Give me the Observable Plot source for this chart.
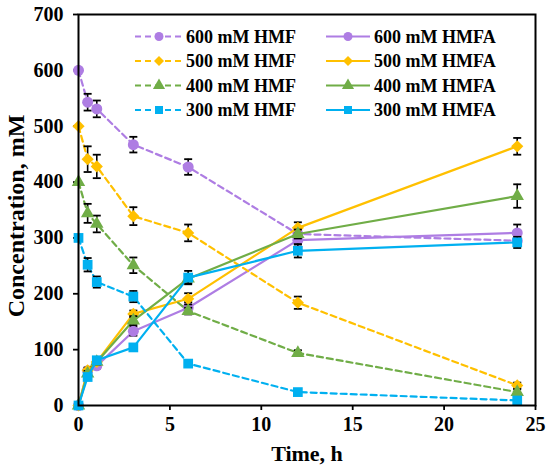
<!DOCTYPE html>
<html>
<head>
<meta charset="utf-8">
<script src="https://cdn.jsdelivr.net/npm/d3@7"></script>
<script src="https://cdn.jsdelivr.net/npm/@observablehq/plot@0.6"></script>
<style>
  html, body { margin: 0; padding: 0; background: #fff; }
  #chart { width: 550px; height: 469px; }
</style>
</head>
<body>
<div id="chart"></div>
<script>
// ---- data ----
const times = [0, 0.5, 1, 3, 6, 12, 24];

const hmf600  = [600, 543, 531, 467, 427, 307, 295];
const hmfa600 = [0, 62, 71, 133, 175, 296, 309];
const hmf500  = [500, 441, 428, 339, 309, 184, 36];
const hmfa500 = [0, 63, 78, 164, 191, 318, 464];
const hmf400  = [400, 344, 325, 251, 169, 94, 24];
const hmfa400 = [0, 57, 78, 152, 227, 307, 375];
const hmf300  = [300, 252, 221, 195, 75, 24, 9];
const hmfa300 = [0, 51, 81, 104, 229, 277, 292];

const err600hmf  = [0, 15, 15, 14, 14, 10, 8];
const err600hmfa = [0, 5, 5, 8, 10, 8, 15];
const err500hmf  = [0, 23, 21, 16, 15, 11, 5];
const err500hmfa = [0, 5, 5, 6, 10, 10, 15];
const err400hmf  = [0, 17, 15, 14, 6, 5, 5];
const err400hmfa = [0, 5, 5, 8, 8, 8, 21];
const err300hmf  = [0, 12, 10, 10, 5, 4, 3];
const err300hmfa = [0, 5, 5, 5, 12, 12, 10];

const seriesNames = ["600 mM HMF", "600 mM HMFA", "500 mM HMF", "500 mM HMFA",
                     "400 mM HMF", "400 mM HMFA", "300 mM HMF", "300 mM HMFA"];
const xTicks = [0, 5, 10, 15, 20, 25];
const yTicks = [0, 100, 200, 300, 400, 500, 600, 700];

// ---- styles ----
const purple = "#ae7de3", gold = "#ffc000", green = "#70ad47", blue = "#00b0f0";
const series = [
  {name: seriesNames[0], values: hmf600,  errors: err600hmf,  color: purple, symbol: "circle",   dashed: true},
  {name: seriesNames[1], values: hmfa600, errors: err600hmfa, color: purple, symbol: "circle",   dashed: false},
  {name: seriesNames[2], values: hmf500,  errors: err500hmf,  color: gold,   symbol: "diamond2", dashed: true},
  {name: seriesNames[3], values: hmfa500, errors: err500hmfa, color: gold,   symbol: "diamond2", dashed: false},
  {name: seriesNames[4], values: hmf400,  errors: err400hmf,  color: green,  symbol: "triangle", dashed: true},
  {name: seriesNames[5], values: hmfa400, errors: err400hmfa, color: green,  symbol: "triangle", dashed: false},
  {name: seriesNames[6], values: hmf300,  errors: err300hmf,  color: blue,   symbol: "square",   dashed: true},
  {name: seriesNames[7], values: hmfa300, errors: err300hmfa, color: blue,   symbol: "square",   dashed: false}
];

const capSymbol = {
  draw(ctx, size) {
    const w = Math.sqrt(size / Math.PI);
    ctx.moveTo(-w, 0);
    ctx.lineTo(w, 0);
  }
};

const marks = [];
for (const s of series) {
  const rows = times.map((t, i) => ({t, v: s.values[i], e: s.errors[i]}));
  const errRows = rows.filter(d => d.e > 0);
  marks.push(Plot.line(rows, {x: "t", y: "v", stroke: s.color, strokeWidth: 2.2,
    strokeDasharray: s.dashed ? "6,4" : null}));
  marks.push(Plot.ruleX(errRows, {x: "t", y1: d => d.v - d.e, y2: d => d.v + d.e, stroke: "black", strokeWidth: 1.6}));
  marks.push(Plot.dot(errRows, {x: "t", y: d => d.v + d.e, symbol: capSymbol, r: 4, stroke: "black", strokeWidth: 1.8}));
  marks.push(Plot.dot(errRows, {x: "t", y: d => d.v - d.e, symbol: capSymbol, r: 4, stroke: "black", strokeWidth: 1.8}));
  marks.push(Plot.dot(rows, {x: "t", y: "v", symbol: s.symbol, r: s.symbol === "triangle" ? 5 : 5.5, fill: s.color, stroke: "none"}));
}

const chart = Plot.plot({
  width: 550,
  height: 469,
  marginLeft: 78,
  marginRight: 15,
  marginTop: 14,
  marginBottom: 64,
  style: {fontFamily: "'Liberation Serif', 'Times New Roman', serif", fontWeight: "bold", fontSize: "20px", color: "black", background: "white"},
  x: {domain: [0, 25], ticks: xTicks, label: null},
  y: {domain: [0, 700], ticks: yTicks, label: null},
  marks: [
    Plot.axisX({ticks: xTicks, tickSize: 5, tickPadding: 6, strokeWidth: 1.8, label: null}),
    Plot.axisY({ticks: yTicks, tickSize: 5, tickPadding: 10, strokeWidth: 1.8, label: null}),
    ...marks,
    Plot.frame({stroke: "black", strokeWidth: 2}),
    Plot.text(["Time, h"], {frameAnchor: "bottom", text: d => d, dy: 55, fontSize: 22, fontWeight: "bold"}),
    Plot.text(["Concentration, mM"], {frameAnchor: "left", textAnchor: "middle", text: d => d, rotate: -90, dx: -62, dy: 6, fontSize: 24, fontWeight: "bold"})
  ]
});

document.getElementById("chart").appendChild(chart);

// ---- legend ----
const svg = d3.select(chart);
const symMap = {circle: d3.symbolCircle, diamond2: d3.symbolDiamond2, triangle: d3.symbolTriangle, square: d3.symbolSquare};
const legend = svg.append("g").attr("font-size", 18).attr("font-weight", "bold").attr("text-anchor", "start");
const cols = [{x0: 135, x1: 183, tx: 186}, {x0: 326, x1: 370, tx: 374}];
const rowY = [36.5, 61, 85.5, 110];
series.forEach((s, i) => {
  const c = cols[i % 2], y = rowY[Math.floor(i / 2)];
  const g = legend.append("g");
  g.append("line").attr("x1", c.x0).attr("x2", c.x1).attr("y1", y).attr("y2", y)
    .attr("stroke", s.color).attr("stroke-width", 2.2)
    .attr("stroke-dasharray", s.dashed ? "6,4" : null);
  g.append("path").attr("transform", `translate(${(c.x0 + c.x1) / 2},${y})`)
    .attr("d", d3.symbol(symMap[s.symbol], Math.PI * 4.5 * 4.5)())
    .attr("fill", s.color);
  g.append("text").attr("x", c.tx).attr("y", y).attr("dy", "0.35em")
    .attr("text-anchor", "start").attr("fill", "black").text(s.name);
});
</script>
</body>
</html>
